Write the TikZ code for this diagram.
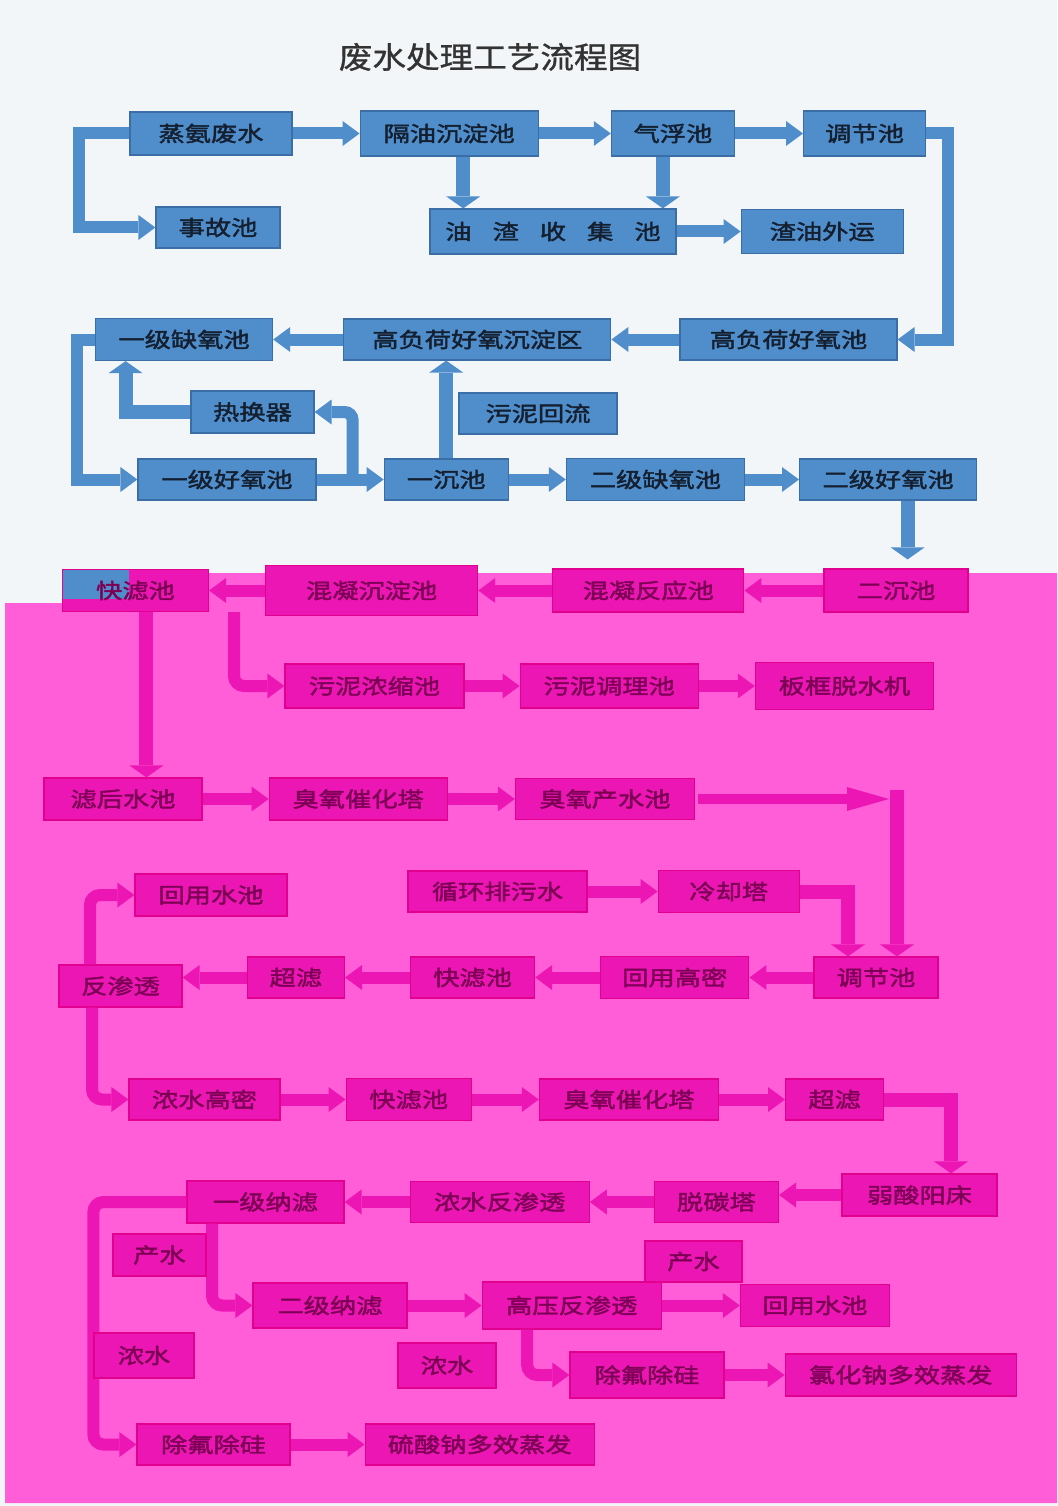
\documentclass[tikz,border=0pt]{standalone}
\usepackage{fontspec}
\newfontfamily\cjk[FakeStretch=1.25,FakeBold=2]{Noto Sans CJK SC}
\newfontfamily\cjktitle[FakeStretch=1.12,FakeBold=1]{Noto Sans CJK SC}
\usetikzlibrary{arrows.meta,positioning}

\definecolor{bgLight}{HTML}{F2F6F8}
\definecolor{bgPink}{HTML}{FF5ED8}
\definecolor{blueFill}{HTML}{4F8DCB}
\definecolor{blueLine}{HTML}{3B6EA6}
\definecolor{blueText}{HTML}{142030}
\definecolor{pinkFill}{HTML}{EC16B4}
\definecolor{pinkLine}{HTML}{E2008E}
\definecolor{pinkText}{HTML}{7C0054}

\begin{document}
\begin{tikzpicture}[x=1pt, y=-1pt,
	bbox/.style={draw=blueLine, fill=blueFill, text=blueText, line width=1.2pt, minimum height=42pt, inner sep=0pt, font=\cjk\fontsize{21}{21}\selectfont},
	pbox/.style={bbox, draw=pinkLine, fill=pinkFill, text=pinkText},
	bpipe/.style={draw=blueFill, line width=12pt, -{Triangle[width=25pt,length=17pt,line width=0pt]}},
	bvpipe/.style={bpipe, line width=14pt, -{Triangle[width=34pt,length=12pt,line width=0pt]}},
	ppipe/.style={bpipe, draw=pinkFill},
	pvpipe/.style={bvpipe, draw=pinkFill}]

	\useasboundingbox (0,0) rectangle (1057,1506);
	\fill[bgLight] (0,0) rectangle (1057,1506);
	\fill[bgPink] (5,603) -- (133,603) -- (133,573) -- (1057,573) -- (1057,1503) -- (5,1503) -- cycle;

	\node[font=\cjktitle\fontsize{30}{30}\selectfont, text=black!80] (title) at (490,57) {废水处理工艺流程图};

	% pretreatment and biochemical stage
	\node[bbox, minimum width=162pt, minimum height=43pt] (zhengan) at (211,133.5) {蒸氨废水};
	\node[bbox, minimum width=178pt, minimum height=45pt, right=67pt of zhengan] (geyou) {隔油沉淀池};
	\node[bbox, minimum width=123pt, minimum height=45pt, right=72pt of geyou] (qifu) {气浮池};
	\node[bbox, minimum width=122pt, minimum height=45pt, right=68pt of qifu] (tiaojieA) {调节池};
	\node[bbox, minimum width=124pt, minimum height=41pt] (shigu) at (218,227.5) {事故池};
	\node[bbox, minimum width=246pt, minimum height=45pt] (youzha) at (553,231.5) {油\quad 渣\quad 收\quad 集\quad 池};
	\node[bbox, minimum width=162pt, minimum height=44pt, right=64pt of youzha] (zhayou) {渣油外运};
	\node[bbox, minimum width=217pt, minimum height=41pt] (gfh) at (788.5,339.5) {高负荷好氧池};
	\node[bbox, minimum width=267pt, minimum height=41pt, left=68pt of gfh] (gfhcd) {高负荷好氧沉淀区};
	\node[bbox, minimum width=177pt, left=70pt of gfhcd] (queyangA) {一级缺氧池};
	\node[bbox, minimum width=123pt] (rhq) at (252.5,412) {热换器};
	\node[bbox, minimum width=178pt, minimum height=41pt] (haoyangA) at (227,479.5) {一级好氧池};
	\node[bbox, minimum width=124pt, minimum height=41pt, right=67pt of haoyangA] (yichen) {一沉池};
	\node[bbox, minimum width=178pt, right=57pt of yichen] (queyangB) {二级缺氧池};
	\node[bbox, minimum width=177pt, minimum height=41pt, right=54pt of queyangB] (haoyangB) {二级好氧池};

	% advanced treatment stage
	\node[pbox, minimum width=144pt, minimum height=43pt] (erchen) at (896,590.5) {二沉池};
	\node[pbox, minimum width=191pt, minimum height=43pt, left=79pt of erchen] (hnfy) {混凝反应池};
	\node[pbox, minimum width=212pt, minimum height=50pt, left=74pt of hnfy] (hncd) {混凝沉淀池};
	\node[pbox, minimum width=146pt, left=56pt of hncd,
		path picture={\fill[blueFill] (path picture bounding box.north west) rectangle ++(67pt,-29pt);}] (kuailvA) {快滤池};
	\node[pbox, minimum width=179pt, minimum height=44pt] (wnns) at (374.5,686) {污泥浓缩池};
	\node[pbox, minimum width=178pt, minimum height=44pt, right=55pt of wnns] (wntl) {污泥调理池};
	\node[pbox, minimum width=178pt, minimum height=47pt, right=56pt of wntl] (bkts) {板框脱水机};
	\node[pbox, minimum width=158pt] (lhsc) at (123,799) {滤后水池};
	\node[pbox, minimum width=178pt, right=66pt of lhsc] (cychtA) {臭氧催化塔};
	\node[pbox, minimum width=179pt, minimum height=41pt, right=67pt of cychtA] (cycs) {臭氧产水池};
	\coordinate (hui) at (897,790);
	\node[pbox, minimum width=152pt] (hyscA) at (211,895) {回用水池};
	\node[pbox, minimum width=179pt, minimum height=41pt] (xhps) at (497.5,891.5) {循环排污水};
	\node[pbox, minimum width=141pt, right=70pt of xhps] (lqt) {冷却塔};
	\node[pbox, minimum width=124pt, minimum height=41pt] (tiaojieB) at (876,977.5) {调节池};
	\node[pbox, minimum width=148pt, left=64pt of tiaojieB] (hygm) {回用高密};
	\node[pbox, minimum width=124pt, minimum height=41pt, left=65pt of hygm] (kuailvB) {快滤池};
	\node[pbox, minimum width=97pt, minimum height=41pt, left=65pt of kuailvB] (clA) {超滤};
	\node[pbox, minimum width=123pt] (fst) at (120.5,986) {反渗透};
	\node[pbox, minimum width=151pt, minimum height=41pt] (nsgm) at (204.5,1099.5) {浓水高密};
	\node[pbox, minimum width=125pt, right=65pt of nsgm] (kuailvC) {快滤池};
	\node[pbox, minimum width=179pt, minimum height=41pt, right=67pt of kuailvC] (cychtB) {臭氧催化塔};
	\node[pbox, minimum width=98pt, minimum height=41pt, right=66pt of cychtB] (clB) {超滤};
	\node[pbox, minimum width=155pt] (rsyc) at (919.5,1195) {弱酸阳床};
	\node[pbox, minimum width=157pt] (nlA) at (265.5,1202) {一级纳滤};
	\node[pbox, minimum width=179pt, minimum height=41pt, right=65pt of nlA] (nsfst) {浓水反渗透};
	\node[pbox, minimum width=124pt, minimum height=41pt, right=64pt of nsfst] (ttt) {脱碳塔};
	\node[pbox, minimum width=154pt, minimum height=45pt] (nlB) at (330,1305.5) {二级纳滤};
	\node[pbox, minimum width=179pt, minimum height=47pt, right=74pt of nlB] (gyfst) {高压反渗透};
	\node[pbox, minimum width=149pt, right=78pt of gyfst] (hyscB) {回用水池};
	\node[pbox, minimum width=154pt, minimum height=46pt] (cfcgB) at (647,1375) {除氟除硅};
	\node[pbox, minimum width=231pt, right=60pt of cfcgB] (lhnz) {氯化钠多效蒸发};
	\node[pbox, minimum width=153pt, minimum height=41pt] (cfcgA) at (213.5,1444.5) {除氟除硅};
	\node[pbox, minimum width=229pt, minimum height=41pt, right=74pt of cfcgA] (lsnz) {硫酸钠多效蒸发};

	% blue pipes
	\draw[bpipe] (zhengan.east) -- (zhengan.east -| geyou.west);
	\draw[bpipe] (geyou.east) -- (geyou.east -| qifu.west);
	\draw[bpipe] (qifu.east) -- (qifu.east -| tiaojieA.west);
	\draw[bpipe] (zhengan.west) -- ++(-50,0) |- (shigu.west);
	\draw[bvpipe] ([xshift=14pt]geyou.south) -- ([xshift=14pt]geyou.south |- youzha.north);
	\draw[bvpipe] ([xshift=-10pt]qifu.south) -- ([xshift=-10pt]qifu.south |- youzha.north);
	\draw[bpipe] (youzha.east) -- (youzha.east -| zhayou.west);
	\draw[bpipe] (tiaojieA.east) -- ++(22,0) |- (gfh.east);
	\draw[bpipe] (gfh.west) -- (gfh.west -| gfhcd.east);
	\draw[bpipe] (gfhcd.west) -- (gfhcd.west -| queyangA.east);
	\draw[bpipe] (queyangA.west) -- ++(-18,0) |- (haoyangA.west);
	\draw[bpipe] (haoyangA.east) -- (haoyangA.east -| yichen.west);
	\draw[bpipe, rounded corners=8pt] ([xshift=36pt]haoyangA.east) |- (rhq.east);
	\draw[bvpipe] (rhq.west) -| ([xshift=-58.5pt]queyangA.south);
	\draw[bvpipe] (yichen.north) -- (yichen.north |- gfhcd.south);
	\draw[bpipe] (yichen.east) -- (yichen.east -| queyangB.west);
	\draw[bpipe] (queyangB.east) -- (queyangB.east -| haoyangB.west);
	\draw[bvpipe, shorten >=9pt] ([xshift=19.5pt]haoyangB.south) -- ([xshift=19.5pt]haoyangB.south |- erchen.north);

	% pink pipes
	\draw[ppipe] (erchen.west) -- (erchen.west -| hnfy.east);
	\draw[ppipe] (hnfy.west) -- (hnfy.west -| hncd.east);
	\draw[ppipe] (hncd.west) -- (hncd.west -| kuailvA.east);
	\draw[ppipe, rounded corners=10pt] ([xshift=-31pt,yshift=4pt]hncd.south west) |- (wnns.west);
	\draw[ppipe] (wnns.east) -- (wnns.east -| wntl.west);
	\draw[ppipe] (wntl.east) -- (wntl.east -| bkts.west);
	\draw[pvpipe] ([xshift=11pt]kuailvA.south) -- ([xshift=11pt]kuailvA.south |- lhsc.north);
	\draw[ppipe] (lhsc.east) -- (lhsc.east -| cychtA.west);
	\draw[ppipe] (cychtA.east) -- (cychtA.east -| cycs.west);
	\draw[ppipe, line width=10pt, -{Triangle[width=24pt,length=42pt,line width=0pt]}] ([xshift=3pt]cycs.east) -- ([xshift=-8pt]hui |- cycs.east);
	\draw[pvpipe] (hui) -- (hui |- tiaojieB.north);
	\draw[ppipe] (xhps.east) -- (xhps.east -| lqt.west);
	\draw[pvpipe] (lqt.east) -| ([xshift=-28pt]tiaojieB.north);
	\draw[ppipe] (tiaojieB.west) -- (tiaojieB.west -| hygm.east);
	\draw[ppipe] (hygm.west) -- (hygm.west -| kuailvB.east);
	\draw[ppipe] (kuailvB.west) -- (kuailvB.west -| clA.east);
	\draw[ppipe] (clA.west) -- (clA.west -| fst.east);
	\draw[ppipe, rounded corners=10pt] ([xshift=-30.5pt]fst.north) |- (hyscA.west);
	\draw[ppipe, rounded corners=10pt] ([xshift=-28.5pt]fst.south) |- (nsgm.west);
	\draw[ppipe] (nsgm.east) -- (nsgm.east -| kuailvC.west);
	\draw[ppipe] (kuailvC.east) -- (kuailvC.east -| cychtB.west);
	\draw[ppipe] (cychtB.east) -- (cychtB.east -| clB.west);
	\draw[pvpipe] (clB.east) -| ([xshift=31.5pt]rsyc.north);
	\draw[ppipe] (rsyc.west) -- (rsyc.west -| ttt.east);
	\draw[ppipe] (ttt.west) -- (ttt.west -| nsfst.east);
	\draw[ppipe] (nsfst.west) -- (nsfst.west -| nlA.east);
	\draw[ppipe, rounded corners=10pt] (nlA.west) -- ++(-93,0) |- (cfcgA.west);
	\draw[ppipe, rounded corners=10pt] ([xshift=-53.5pt]nlA.south) |- (nlB.west);
	\draw[ppipe] (nlB.east) -- (nlB.east -| gyfst.west);
	\draw[ppipe] (gyfst.east) -- (gyfst.east -| hyscB.west);
	\draw[ppipe, rounded corners=10pt] ([xshift=-44.5pt]gyfst.south) |- (cfcgB.west);
	\draw[ppipe] (cfcgB.east) -- (cfcgB.east -| lhnz.west);
	\draw[ppipe] (cfcgA.east) -- (cfcgA.east -| lsnz.west);

	% label boxes
	\node[bbox, minimum width=158pt, minimum height=41pt] (wnhl) at (538,413.5) {污泥回流};
	\node[pbox, minimum width=93pt] (csA) at (159.5,1255) {产水};
	\node[pbox, minimum width=97pt, minimum height=41pt] (csB) at (693.5,1261.5) {产水};
	\node[pbox, minimum width=100pt, minimum height=45pt] (nsA) at (144,1355.5) {浓水};
	\node[pbox, minimum width=98pt, minimum height=45pt] (nsB) at (447,1365.5) {浓水};
\end{tikzpicture}
\end{document}
